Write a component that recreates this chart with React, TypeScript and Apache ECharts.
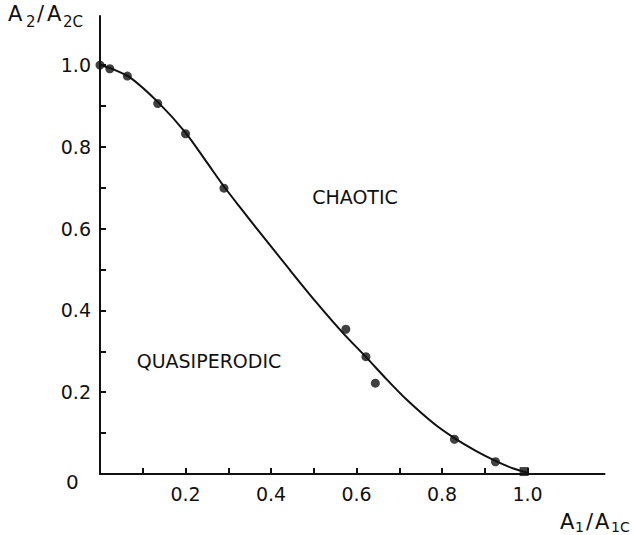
import React, { useEffect, useRef } from "react";
import * as echarts from "echarts";

// Measured data points (A1/A1c, A2/A2c)
const pointX = [0.0, 0.023, 0.064, 0.135, 0.2, 0.29, 0.575, 0.622, 0.644, 0.829, 0.925, 0.992];
const pointY = [1.0, 0.991, 0.973, 0.906, 0.832, 0.699, 0.354, 0.287, 0.222, 0.085, 0.03, 0.006];

// Boundary curve
const curveX = [0, 0.03, 0.07, 0.135, 0.2, 0.25, 0.29, 0.33, 0.385, 0.444, 0.505, 0.569, 0.624, 0.67, 0.717, 0.78, 0.83, 0.88, 0.925, 0.965, 1.0];
const curveY = [1.0, 0.99, 0.97, 0.91, 0.835, 0.762, 0.703, 0.649, 0.576, 0.499, 0.421, 0.344, 0.284, 0.232, 0.182, 0.124, 0.087, 0.056, 0.032, 0.014, 0.003];

// Ticks and labels
const xTicks = [0.1, 0.2, 0.3, 0.4, 0.5, 0.6, 0.7, 0.8, 0.9, 1.0];
const xLabels = [0.2, 0.4, 0.6, 0.8, 1.0];
const yTicks = [0.1, 0.2, 0.3, 0.4, 0.5, 0.6, 0.7, 0.8, 0.9, 1.0];
const yLabels = [0.2, 0.4, 0.6, 0.8, 1.0];

const FONT = "'DejaVu Sans', sans-serif";

export default function App() {
  const ref = useRef<HTMLDivElement>(null);
  useEffect(() => {
    if (!ref.current) return;
    const chart = echarts.init(ref.current, null, { renderer: "svg" });
    const txt = (x: number, y: number, text: string, size: number, align = "left") => ({
      type: "text",
      x,
      y,
      style: { text, fill: "#111", font: `${size}px ${FONT}`, textAlign: align, textVerticalAlign: "middle" },
    });
    chart.setOption({
      animation: false,
      backgroundColor: "#fff",
      grid: { left: 100, top: 16, width: 504.5, height: 458, containLabel: false, outerBoundsMode: "none" },
      xAxis: {
        type: "value",
        min: 0,
        max: 1.18,
        splitLine: { show: false },
        axisLine: { show: true, onZero: false, lineStyle: { color: "#111", width: 2 } },
        axisTick: { show: true, inside: true, length: 6, customValues: xTicks, lineStyle: { color: "#111", width: 2 } },
        axisLabel: {
          customValues: xLabels,
          formatter: (v: number) => v.toFixed(1),
          color: "#111",
          fontSize: 19,
          fontFamily: FONT,
          margin: 10,
        },
      },
      yAxis: {
        type: "value",
        min: 0,
        max: 1.12,
        splitLine: { show: false },
        axisLine: { show: true, onZero: false, lineStyle: { color: "#111", width: 2 } },
        axisTick: { show: true, inside: true, length: 6, customValues: yTicks, lineStyle: { color: "#111", width: 2 } },
        axisLabel: {
          customValues: yLabels,
          formatter: (v: number) => v.toFixed(1),
          color: "#111",
          fontSize: 19,
          fontFamily: FONT,
          margin: 9,
        },
      },
      series: [
        {
          type: "line",
          data: curveX.map((x, i) => [x, curveY[i]]),
          smooth: 0.25,
          showSymbol: false,
          symbol: "none",
          lineStyle: { color: "#111", width: 2 },
          z: 2,
        },
        {
          type: "scatter",
          data: pointX.map((x, i) => ({
            value: [x, pointY[i]],
            symbol: i === pointX.length - 1 ? "rect" : "circle",
          })),
          symbolSize: 9,
          itemStyle: { color: "#111" },
          z: 3,
        },
      ],
      graphic: [
        txt(66, 482, "0", 20),
        // y axis name A2/A2C
        txt(8, 14, "A", 21),
        txt(26, 22, "2", 15),
        txt(37, 14, "/", 21),
        txt(47, 14, "A", 21),
        txt(63, 22, "2C", 15),
        // x axis name A1/A1C
        txt(560, 522, "A", 21),
        txt(575, 527, "1", 14),
        txt(586, 522, "/", 21),
        txt(595, 522, "A", 21),
        txt(611, 527, "1C", 14),
        // region labels
        { type: "text", x: 355, y: 197, style: { text: "CHAOTIC", fill: "#111", font: `19px ${FONT}`, textAlign: "center", textVerticalAlign: "middle" } },
        { type: "text", x: 209, y: 361, style: { text: "QUASIPERODIC", fill: "#111", font: `19px ${FONT}`, textAlign: "center", textVerticalAlign: "middle" } },
      ],
    });
    return () => chart.dispose();
  }, []);
  return <div ref={ref} style={{ position: "fixed", left: 0, top: 0, width: 634, height: 535 }} />;
}
